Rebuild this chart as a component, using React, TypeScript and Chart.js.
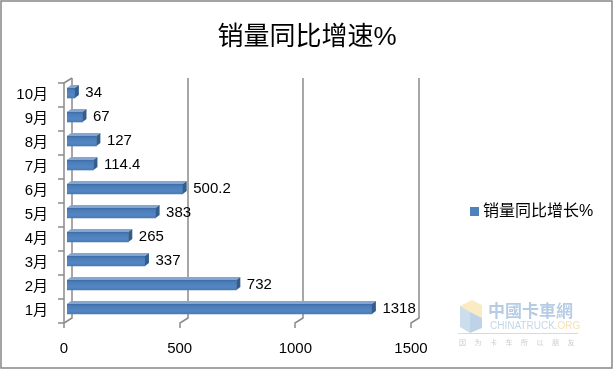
import React, { useEffect, useRef } from 'react';
import { Chart, registerables } from 'chart.js';

Chart.register(...registerables);

const chartTitle = '销量同比增速%';
const seriesName = '销量同比增长%';
const categories = ['1月', '2月', '3月', '4月', '5月', '6月', '7月', '8月', '9月', '10月'];
const values = [1318, 732, 337, 265, 383, 500.2, 114.4, 127, 67, 34];
const xTickValues = [0, 500, 1000, 1500];

const FONT = '"Liberation Sans", "Noto Sans CJK SC", sans-serif';
const BAR_SHIFT_X = 3;
const BAR_SHIFT_Y = -2;
const WALL_DX = 8;
const WALL_DY = 5;
const FACE_DX = 4;
const FACE_DY = 3;
const GRID_COLOR = '#8a8a8a';

const framePlugin = {
  id: 'frame3d',
  beforeDraw(chart: any) {
    const ctx = chart.ctx;
    ctx.save();
    ctx.fillStyle = '#ffffff';
    ctx.fillRect(0, 0, chart.width, chart.height);
    ctx.restore();
  },
  beforeDatasetsDraw(chart: any) {
    const ctx = chart.ctx;
    const xs = chart.scales.x;
    const ys = chart.scales.y;
    const { top, bottom, left } = chart.chartArea;
    ctx.save();
    ctx.strokeStyle = GRID_COLOR;
    ctx.lineWidth = 1.5;
    xTickValues.forEach((v) => {
      const x = Math.round(xs.getPixelForValue(v));
      ctx.beginPath();
      ctx.moveTo(x + WALL_DX, top - WALL_DY);
      ctx.lineTo(x + WALL_DX, bottom - WALL_DY);
      ctx.lineTo(x, bottom);
      ctx.lineTo(x, bottom + 5);
      ctx.stroke();
    });
    ctx.beginPath();
    ctx.moveTo(left, bottom);
    ctx.lineTo(left, top);
    ctx.lineTo(left + WALL_DX, top - WALL_DY);
    ctx.stroke();
    for (let i = 0; i <= categories.length; i++) {
      const y = Math.round(ys.getPixelForValue(i - 0.5));
      ctx.beginPath();
      ctx.moveTo(left - 6, y);
      ctx.lineTo(left, y);
      ctx.stroke();
    }
    ctx.restore();
    ctx.save();
    ctx.translate(BAR_SHIFT_X, BAR_SHIFT_Y);
  },
  afterDatasetsDraw(chart: any) {
    const ctx = chart.ctx;
    const meta = chart.getDatasetMeta(0);
    meta.data.forEach((el: any) => {
      const p = el.getProps(['x', 'y', 'base', 'height'], true);
      const t = p.y - p.height / 2;
      const b = p.y + p.height / 2;
      ctx.fillStyle = '#86a6d2';
      ctx.beginPath();
      ctx.moveTo(p.base, t);
      ctx.lineTo(p.base + FACE_DX, t - FACE_DY);
      ctx.lineTo(p.x + FACE_DX, t - FACE_DY);
      ctx.lineTo(p.x, t);
      ctx.closePath();
      ctx.fill();
      ctx.fillStyle = '#355d8c';
      ctx.beginPath();
      ctx.moveTo(p.x, t);
      ctx.lineTo(p.x + FACE_DX, t - FACE_DY);
      ctx.lineTo(p.x + FACE_DX, b - FACE_DY);
      ctx.lineTo(p.x, b);
      ctx.closePath();
      ctx.fill();
    });
    ctx.restore();
    ctx.save();
    ctx.fillStyle = '#000000';
    ctx.font = '15px ' + FONT;
    ctx.textAlign = 'left';
    ctx.textBaseline = 'middle';
    meta.data.forEach((el: any, i: number) => {
      const p = el.getProps(['x', 'y'], true);
      ctx.fillText(String(values[i]), p.x + 13.5, p.y + BAR_SHIFT_Y);
    });
    ctx.restore();
  },
  afterDraw(chart: any) {
    const ctx = chart.ctx;
    ctx.save();
    ctx.fillStyle = '#000000';
    ctx.font = '26px ' + FONT;
    ctx.textAlign = 'center';
    ctx.textBaseline = 'middle';
    ctx.fillText(chartTitle, 307, 38);
    ctx.fillStyle = '#4F81BD';
    ctx.fillRect(470, 207, 9, 9);
    ctx.fillStyle = '#000000';
    ctx.font = '16px ' + FONT;
    ctx.textAlign = 'left';
    ctx.fillText(seriesName, 483, 212);
    // watermark
    ctx.globalAlpha = 0.45;
    ctx.fillStyle = '#f3d27a';
    ctx.beginPath();
    ctx.moveTo(460, 306); ctx.lineTo(472, 300); ctx.lineTo(482, 305); ctx.lineTo(482, 318); ctx.lineTo(470, 312); ctx.closePath();
    ctx.fill();
    ctx.fillStyle = '#8fb6da';
    ctx.beginPath();
    ctx.moveTo(460, 306); ctx.lineTo(470, 312); ctx.lineTo(470, 333); ctx.lineTo(460, 327); ctx.closePath();
    ctx.fill();
    ctx.fillStyle = '#6f9ccc';
    ctx.beginPath();
    ctx.moveTo(470, 312); ctx.lineTo(482, 318); ctx.lineTo(482, 328); ctx.lineTo(470, 333); ctx.closePath();
    ctx.fill();
    ctx.fillStyle = '#5b8fc4';
    ctx.font = 'bold 17px "Noto Sans CJK TC", sans-serif';
    ctx.textBaseline = 'middle';
    ctx.fillText('中國卡車網', 488, 311);
    ctx.font = '10px ' + FONT;
    ctx.fillStyle = '#7aa3cc';
    ctx.fillText('CHINATRUCK.', 490, 326);
    const w = ctx.measureText('CHINATRUCK.').width;
    ctx.fillStyle = '#f0b84a';
    ctx.fillText('ORG', 490 + w, 326);
    ctx.strokeStyle = '#8fb6da';
    ctx.lineWidth = 1;
    ctx.beginPath();
    ctx.moveTo(458, 333.5); ctx.lineTo(578, 333.5);
    ctx.stroke();
    ctx.fillStyle = '#8a8a8a';
    ctx.font = '7px "Noto Sans CJK SC", sans-serif';
    '因为卡车所以朋友'.split('').forEach((c, i) => ctx.fillText(c, 459 + i * 15.5, 342));
    ctx.globalAlpha = 1;
    ctx.strokeStyle = '#878787';
    ctx.lineWidth = 1.5;
    ctx.strokeRect(1, 1, 611, 367);
    ctx.restore();
  },
};

export default function App() {
  const ref = useRef<HTMLCanvasElement | null>(null);
  useEffect(() => {
    if (!ref.current) return;
    const chart = new Chart(ref.current, {
      type: 'bar',
      data: {
        labels: categories,
        datasets: [
          {
            label: seriesName,
            data: values,
            barThickness: 10,
            backgroundColor: (c: any) => {
              const ch = c.chart;
              if (c.type !== 'data' || !ch.scales || !ch.scales.y) return '#4F81BD';
              const y = ch.scales.y.getPixelForValue(c.dataIndex);
              if (!Number.isFinite(y)) return '#4F81BD';
              const g = ch.ctx.createLinearGradient(0, y - 5, 0, y + 5);
              g.addColorStop(0, '#3d6aa3');
              g.addColorStop(0.2, '#4a7cba');
              g.addColorStop(0.7, '#5386c3');
              g.addColorStop(1, '#4a7ab6');
              return g;
            },
            borderWidth: 0,
          },
        ],
      },
      options: {
        indexAxis: 'y',
        responsive: false,
        animation: false,
        devicePixelRatio: 1,
        layout: { padding: { top: 83, right: 203, bottom: 0, left: 0 } },
        plugins: {
          legend: { display: false },
          title: { display: false },
          tooltip: { enabled: false },
        },
        scales: {
          x: {
            type: 'linear',
            min: 0,
            max: 1500,
            grid: { display: false, drawTicks: false },
            border: { display: false },
            ticks: {
              stepSize: 500,
              padding: 17,
              color: '#000000',
              font: { size: 15, family: FONT },
              maxRotation: 0,
              callback: (v: any) => String(v),
            },
            afterFit: (s: any) => {
              s.height = 47;
            },
          },
          y: {
            type: 'category',
            reverse: true,
            grid: { display: false, drawTicks: false },
            border: { display: false },
            ticks: {
              padding: 16,
              color: '#000000',
              font: { size: 15, family: FONT },
            },
            afterFit: (s: any) => {
              s.width = 64;
            },
          },
        },
      },
      plugins: [framePlugin],
    } as any);
    return () => chart.destroy();
  }, []);
  return (
    <div style={{ position: 'absolute', left: 0, top: 0, width: 614, height: 370 }}>
      <canvas ref={ref} width={614} height={370} style={{ display: 'block' }} />
    </div>
  );
}
